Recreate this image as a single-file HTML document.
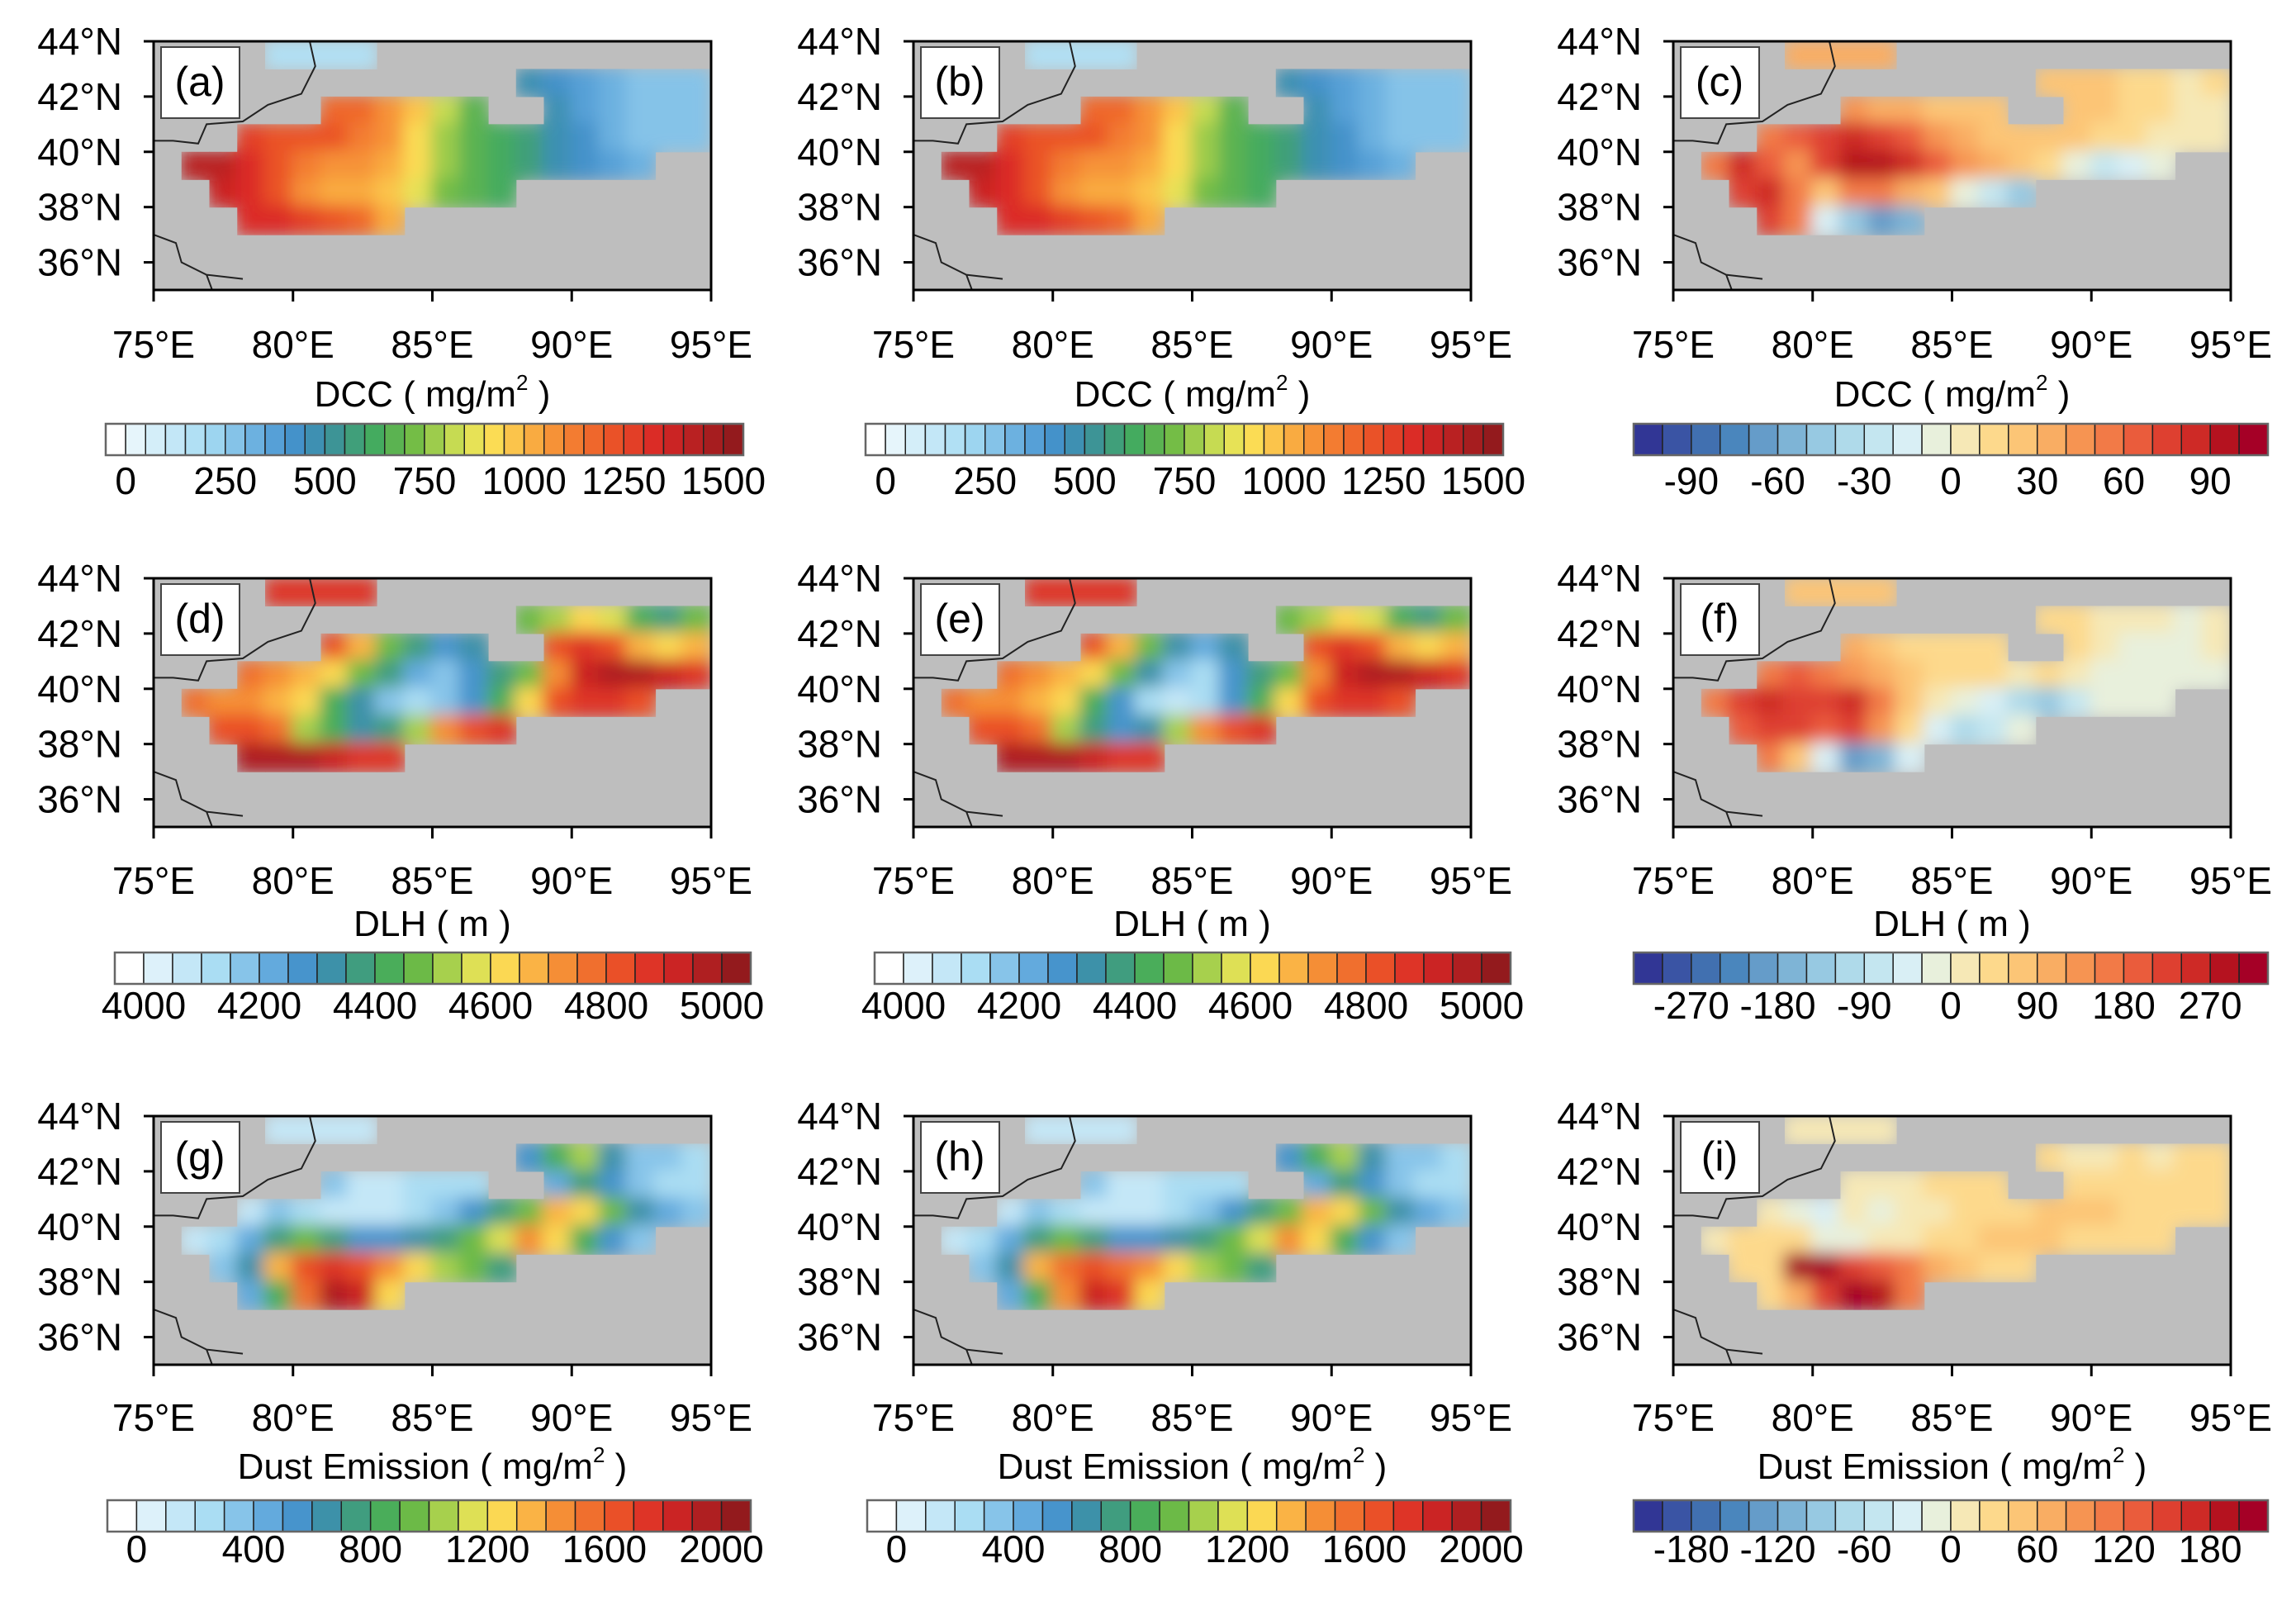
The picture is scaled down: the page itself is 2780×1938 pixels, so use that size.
<!DOCTYPE html>
<html><head><meta charset="utf-8">
<style>
html,body{margin:0;padding:0;background:#fff;}
svg{display:block;font-family:"Liberation Sans",sans-serif;}
</style></head>
<body>
<svg id="fig" width="2780" height="1938" viewBox="0 0 2780 1938" xmlns="http://www.w3.org/2000/svg">
<defs>
<filter id="soft" x="-5%" y="-5%" width="110%" height="110%"><feGaussianBlur stdDeviation="10"/></filter>
</defs>
</svg>
<script>
const _ = null;
// grid: rows lat 44->35 (1 deg), cols lon 75->94 (1 deg)
const dccA = [
[_,_,_,_,150,150,150,150,_,_,_,_,_,_,_,_,_,_,_,_],
[_,_,_,_,_,_,_,_,_,_,_,_,_,450,400,350,300,250,250,250],
[_,_,_,_,_,_,1150,1150,1050,950,800,650,_,_,450,350,300,250,250,250],
[_,_,_,1250,1200,1200,1200,1100,1050,900,750,650,600,550,450,400,300,250,250,250],
[_,1400,1400,1300,1200,1100,1050,1050,1000,900,750,650,600,550,450,400,350,300,_,_],
[_,_,1350,1300,1200,1050,1000,1000,950,850,700,650,600,_,_,_,_,_,_,_],
[_,_,_,1300,1300,1250,1200,1150,1000,_,_,_,_,_,_,_,_,_,_,_],
[_,_,_,_,_,_,_,_,_,_,_,_,_,_,_,_,_,_,_,_],
[_,_,_,_,_,_,_,_,_,_,_,_,_,_,_,_,_,_,_,_]];
const dccB = [
[_,_,_,_,150,150,150,150,_,_,_,_,_,_,_,_,_,_,_,_],
[_,_,_,_,_,_,_,_,_,_,_,_,_,450,400,350,300,250,250,250],
[_,_,_,_,_,_,1150,1150,1050,950,800,650,_,_,450,350,300,250,250,250],
[_,_,_,1250,1200,1200,1200,1100,1050,900,750,650,600,550,450,400,300,250,250,250],
[_,1400,1400,1300,1200,1100,1050,1050,1000,900,750,650,600,550,450,400,350,300,_,_],
[_,_,1350,1300,1200,1050,1000,1000,950,850,700,650,600,_,_,_,_,_,_,_],
[_,_,_,1300,1300,1250,1200,1150,1000,_,_,_,_,_,_,_,_,_,_,_],
[_,_,_,_,_,_,_,_,_,_,_,_,_,_,_,_,_,_,_,_],
[_,_,_,_,_,_,_,_,_,_,_,_,_,_,_,_,_,_,_,_]];
const dccDiff = [
[_,_,_,_,30,30,30,30,_,_,_,_,_,_,_,_,_,_,_,_],
[_,_,_,_,_,_,_,_,_,_,_,_,_,20,25,20,15,10,5,15],
[_,_,_,_,_,_,40,30,30,20,20,20,_,_,25,20,15,10,5,5],
[_,_,_,50,60,70,80,70,60,40,30,25,20,25,20,15,10,5,5,5],
[_,50,80,60,40,70,90,90,80,60,40,30,25,10,-10,-30,-20,-10,_,_],
[_,_,70,80,50,20,50,50,30,20,-10,-30,-50,_,_,_,_,_,_,_],
[_,_,_,70,50,-20,-50,-70,-60,_,_,_,_,_,_,_,_,_,_,_],
[_,_,_,_,_,_,_,_,_,_,_,_,_,_,_,_,_,_,_,_],
[_,_,_,_,_,_,_,_,_,_,_,_,_,_,_,_,_,_,_,_]];
const dlhD = [
[_,_,_,_,4850,4850,4850,4850,_,_,_,_,_,_,_,_,_,_,_,_],
[_,_,_,_,_,_,_,_,_,_,_,_,_,4450,4500,4600,4550,4400,4350,4450],
[_,_,_,_,_,_,4800,4650,4450,4350,4250,4300,_,_,4800,4850,4800,4650,4600,4650],
[_,_,_,4750,4700,4650,4600,4450,4350,4200,4150,4250,4350,4450,4700,4900,4950,4950,4900,4850],
[_,4750,4700,4700,4650,4600,4400,4300,4150,4100,4150,4250,4400,4600,4800,4850,4850,4800,_,_],
[_,_,4800,4800,4750,4500,4400,4300,4350,4500,4700,4800,4850,_,_,_,_,_,_,_],
[_,_,_,4950,4950,4950,4900,4850,4850,_,_,_,_,_,_,_,_,_,_,_],
[_,_,_,_,_,_,_,_,_,_,_,_,_,_,_,_,_,_,_,_],
[_,_,_,_,_,_,_,_,_,_,_,_,_,_,_,_,_,_,_,_]];
const dlhE = [
[_,_,_,_,4850,4850,4850,4850,_,_,_,_,_,_,_,_,_,_,_,_],
[_,_,_,_,_,_,_,_,_,_,_,_,_,4450,4500,4600,4550,4400,4350,4450],
[_,_,_,_,_,_,4800,4650,4450,4300,4200,4300,_,_,4800,4850,4800,4650,4600,4650],
[_,_,_,4750,4700,4650,4600,4450,4300,4150,4100,4250,4350,4450,4700,4900,4950,4950,4900,4850],
[_,4750,4700,4700,4650,4600,4400,4250,4100,4050,4100,4250,4400,4600,4800,4850,4850,4800,_,_],
[_,_,4800,4800,4750,4500,4350,4250,4300,4500,4700,4800,4850,_,_,_,_,_,_,_],
[_,_,_,4950,4950,4950,4900,4850,4850,_,_,_,_,_,_,_,_,_,_,_],
[_,_,_,_,_,_,_,_,_,_,_,_,_,_,_,_,_,_,_,_],
[_,_,_,_,_,_,_,_,_,_,_,_,_,_,_,_,_,_,_,_]];
const dlhDiff = [
[_,_,_,_,60,60,60,60,_,_,_,_,_,_,_,_,_,_,_,_],
[_,_,_,_,_,_,_,_,_,_,_,_,_,30,30,10,0,0,-10,0],
[_,_,_,_,_,_,90,60,30,30,30,30,_,_,30,0,-20,-20,-10,0],
[_,_,_,150,180,150,120,90,60,40,30,30,20,40,20,-20,-20,-30,-20,-20],
[_,150,210,240,230,210,240,150,60,20,-20,-60,-120,-150,-90,-30,-30,-20,_,_],
[_,_,180,210,210,200,220,120,30,-60,-120,-90,-30,_,_,_,_,_,_,_],
[_,_,_,150,60,-60,-210,-180,-60,_,_,_,_,_,_,_,_,_,_,_],
[_,_,_,_,_,_,_,_,_,_,_,_,_,_,_,_,_,_,_,_],
[_,_,_,_,_,_,_,_,_,_,_,_,_,_,_,_,_,_,_,_]];
const dustG = [
[_,_,_,_,100,100,100,100,_,_,_,_,_,_,_,_,_,_,_,_],
[_,_,_,_,_,_,_,_,_,_,_,_,_,500,800,1000,600,300,300,200],
[_,_,_,_,_,_,300,150,100,200,200,250,_,_,400,700,500,300,250,200],
[_,_,_,150,300,200,100,100,150,200,300,500,700,900,1300,1200,900,600,400,300],
[_,100,200,400,700,900,700,500,500,600,700,900,1100,1400,1200,800,500,300,_,_],
[_,_,300,600,1300,1600,1700,1600,1400,1200,1000,900,700,_,_,_,_,_,_,_],
[_,_,_,400,800,1500,1900,1800,1200,_,_,_,_,_,_,_,_,_,_,_],
[_,_,_,_,_,_,_,_,_,_,_,_,_,_,_,_,_,_,_,_],
[_,_,_,_,_,_,_,_,_,_,_,_,_,_,_,_,_,_,_,_]];
const dustH = [
[_,_,_,_,100,100,100,100,_,_,_,_,_,_,_,_,_,_,_,_],
[_,_,_,_,_,_,_,_,_,_,_,_,_,500,800,1000,600,300,300,200],
[_,_,_,_,_,_,300,150,100,200,200,250,_,_,400,700,500,300,250,200],
[_,_,_,150,300,200,100,100,150,200,300,500,700,900,1300,1200,900,600,400,300],
[_,100,200,400,700,900,700,500,500,600,700,900,1100,1400,1200,800,500,300,_,_],
[_,_,300,600,1300,1500,1600,1500,1400,1200,1000,900,700,_,_,_,_,_,_,_],
[_,_,_,400,800,1400,1800,1700,1200,_,_,_,_,_,_,_,_,_,_,_],
[_,_,_,_,_,_,_,_,_,_,_,_,_,_,_,_,_,_,_,_],
[_,_,_,_,_,_,_,_,_,_,_,_,_,_,_,_,_,_,_,_]];
const dustDiff = [
[_,_,_,_,10,10,10,10,_,_,_,_,_,_,_,_,_,_,_,_],
[_,_,_,_,_,_,_,_,_,_,_,_,_,20,10,10,20,10,20,20],
[_,_,_,_,_,_,10,10,10,20,20,20,_,_,20,30,30,20,20,20],
[_,_,_,10,-20,-40,0,-10,0,10,20,20,20,40,50,40,30,20,20,20],
[_,10,30,30,20,-10,-20,10,10,30,30,40,50,40,20,20,20,20,_,_],
[_,_,20,30,200,200,150,120,100,60,40,30,20,_,_,_,_,_,_,_],
[_,_,_,20,60,150,200,180,100,_,_,_,_,_,_,_,_,_,_,_],
[_,_,_,_,_,_,_,_,_,_,_,_,_,_,_,_,_,_,_,_],
[_,_,_,_,_,_,_,_,_,_,_,_,_,_,_,_,_,_,_,_]];

const latTicks = [36,38,40,42,44];
const lonTicks = [75,80,85,90,95];
const cbLabelsDCC = ["0","250","500","750","1000","1250","1500"];
const cbLabelsDLH = ["4000","4200","4400","4600","4800","5000"];
const cbLabelsDust = ["0","400","800","1200","1600","2000"];
const cbLabelsC = ["-90","-60","-30","0","30","60","90"];
const cbLabelsF = ["-270","-180","-90","0","90","180","270"];
const cbLabelsI = ["-180","-120","-60","0","60","120","180"];
const borderLon1 = [80.6,80.8,80.3,79.1,78.2,76.9,76.6,75.7,75.0];
const borderLat1 = [44.0,43.1,42.1,41.7,41.1,41.0,40.3,40.4,40.4];
const borderLon2 = [75.0,75.8,76.0,76.9,78.2];
const borderLat2 = [37.0,36.7,36.0,35.55,35.4];
const borderLon3 = [76.9,77.1];
const borderLat3 = [35.55,35.0];

const NS = "http://www.w3.org/2000/svg";
const svg = document.getElementById('fig');
function mk(tag, attrs, parent){const e=document.createElementNS(NS,tag);for(const k in attrs)e.setAttribute(k,attrs[k]);(parent||svg).appendChild(e);return e;}
function hex(h){return [parseInt(h.slice(1,3),16),parseInt(h.slice(3,5),16),parseInt(h.slice(5,7),16)];}
function palette(stops,n){const out=[];for(let i=0;i<n;i++){const t=i/(n-1);let j=0;while(j<stops.length-2&&t>stops[j+1][0])j++;const a=stops[j],b=stops[j+1];const f=Math.min(1,Math.max(0,(t-a[0])/(b[0]-a[0])));const ca=hex(a[1]),cb=hex(b[1]);out.push('rgb('+ca.map((v,k)=>Math.round(v+(cb[k]-v)*f)).join(',')+')');}return out;}
const seqStops=[[0,'#ffffff'],[0.035,'#e4f4fb'],[0.15,'#a6dbf3'],[0.25,'#5aa3da'],[0.3,'#3f8ec6'],[0.35,'#3c929a'],[0.42,'#44ab5e'],[0.48,'#6fbb45'],[0.55,'#c8dc52'],[0.6,'#fbe658'],[0.65,'#fbc04a'],[0.72,'#f58a34'],[0.8,'#ec5628'],[0.88,'#d92726'],[1,'#931a1d']];
const seq32 = palette(seqStops,32);
const seq22 = palette(seqStops,22);
const div22 = ['#313695','#3a54a4','#4170b0','#4a86bd','#659cc9','#7eb4d6','#97c9e2','#afdaea','#c4e6f0','#d9eff5','#e8f0dc','#f6e8b6','#fdd98c','#fcc576','#f9ad63','#f69452','#f27a47','#ea5c3c','#de4030','#ce2a26','#b5121f','#a50026'];

const colL=[186,1106,2026], rowT=[50,700,1351], W=675, H=301;
function xs(lon,c){return colL[c]+(lon-75)*W/20;}
function ys(lat,r){return rowT[r]+(44-lat)*H/9;}

const panels=[
 {id:'a',r:0,c:0,data:dccA,pal:seq32,base:0,step:50,off:1,title:'DCC',unit:true,labels:cbLabelsDCC,lb0:1,lbStep:5},
 {id:'b',r:0,c:1,data:dccB,pal:seq32,base:0,step:50,off:1,title:'DCC',unit:true,labels:cbLabelsDCC,lb0:1,lbStep:5},
 {id:'c',r:0,c:2,data:dccDiff,pal:div22,base:0,step:10,off:11,title:'DCC',unit:true,labels:cbLabelsC,lb0:2,lbStep:3},
 {id:'d',r:1,c:0,data:dlhD,pal:seq22,base:4000,step:50,off:1,title:'DLH ( m )',unit:false,labels:cbLabelsDLH,lb0:1,lbStep:4},
 {id:'e',r:1,c:1,data:dlhE,pal:seq22,base:4000,step:50,off:1,title:'DLH ( m )',unit:false,labels:cbLabelsDLH,lb0:1,lbStep:4},
 {id:'f',r:1,c:2,data:dlhDiff,pal:div22,base:0,step:30,off:11,title:'DLH ( m )',unit:false,labels:cbLabelsF,lb0:2,lbStep:3},
 {id:'g',r:2,c:0,data:dustG,pal:seq22,base:0,step:100,off:1,title:'Dust Emission',unit:true,labels:cbLabelsDust,lb0:1,lbStep:4},
 {id:'h',r:2,c:1,data:dustH,pal:seq22,base:0,step:100,off:1,title:'Dust Emission',unit:true,labels:cbLabelsDust,lb0:1,lbStep:4},
 {id:'i',r:2,c:2,data:dustDiff,pal:div22,base:0,step:20,off:11,title:'Dust Emission',unit:true,labels:cbLabelsI,lb0:2,lbStep:3}
];
const rowOff=[{xl:383,title:442,cb:463,cbl:532},{xl:382,title:433,cb:453,cbl:517},{xl:381,title:439,cb:465,cbl:524}];
const cbX=[[-58,772],[-47,770],[-56,779]];

panels.forEach(p=>{
 const g=mk('g',{});
 
 
 const x0=colL[p.c], y0=rowT[p.r];
 const clipId='clip'+p.id, maskId='mclip'+p.id;
 const cp=mk('clipPath',{id:clipId},svg.querySelector('defs'));
 mk('rect',{x:x0,y:y0,width:W,height:H},cp);
 const bg=mk('rect',{x:x0,y:y0,width:W,height:H,fill:'#bebebe'},g);
 
 
 const mcp=mk('clipPath',{id:maskId},svg.querySelector('defs'));
 const cells=mk('g',{filter:'url(#soft)'},mk('g',{'clip-path':'url(#'+maskId+')'},g));
 
 
 p.data.forEach((row,ri)=>row.forEach((v,ci)=>{
   if(v===null)return;
   const lon=75+ci, lat=44-ri;
   const cx=xs(lon,p.c), cy=ys(lat,p.r), cw=W/20, ch=H/9;
   mk('rect',{x:cx,y:cy,width:cw+0.6,height:ch+0.6},mcp);
   let k=Math.floor((v-p.base)/p.step)+p.off; k=Math.max(0,Math.min(p.pal.length-1,k));
   const cell=mk('rect',{x:cx-2,y:cy-2,width:cw+4,height:ch+4,fill:p.pal[k]},cells);
   
   
 }));
 const bl=mk('g',{'clip-path':'url(#'+clipId+')',fill:'none',stroke:'#222',"stroke-width":2},g);
 
 
 [[borderLon1,borderLat1],[borderLon2,borderLat2],[borderLon3,borderLat3]].forEach(([lo,la])=>{
   mk('polyline',{points:lo.map((v,i)=>xs(v,p.c)+','+ys(la[i],p.r)).join(' ')},bl);
 });
 const fr=mk('rect',{x:x0,y:y0,width:W,height:H,fill:'none',stroke:'#000','stroke-width':3},g);
 
 
 const lb=mk('rect',{x:x0+9,y:y0+7,width:95,height:86,fill:'#fff',stroke:'#444','stroke-width':2},g);
 
 
 const lt=mk('text',{x:x0+56,y:y0+66,'font-size':50,'text-anchor':'middle'},g);
 lt.textContent='('+p.id+')';
 
 
 latTicks.forEach(t=>{
   const y=ys(t,p.r);
   mk('line',{x1:x0-12,x2:x0,y1:y,y2:y,stroke:'#000','stroke-width':3},g);
   const tx=mk('text',{x:x0-38,y:y+16,'font-size':46,'text-anchor':'end'},g);
   tx.textContent=t+'°N';
   
   
 });
 const ro=rowOff[p.r];
 lonTicks.forEach(t=>{
   const x=xs(t,p.c);
   mk('line',{x1:x,x2:x,y1:y0+H,y2:y0+H+14,stroke:'#000','stroke-width':3},g);
   const tx=mk('text',{x:x,y:y0+ro.xl,'font-size':46,'text-anchor':'middle'},g);
   tx.textContent=t+'°E';
   
   
 });
 const tt=mk('text',{x:x0+W/2,y:y0+ro.title,'font-size':44,'text-anchor':'middle'},g);
 
 
 if(p.unit){
   tt.appendChild(document.createTextNode(p.title+' ( mg/m'));
   const s=mk('tspan',{'font-size':26,dy:-20},tt); s.textContent='2';
   const s2=mk('tspan',{dy:20},tt); s2.textContent=' )';
 } else tt.textContent=p.title;
 const cbg=mk('g',{},g);
 
 
 const off=p.c===2?[-48,768]:cbX[p.r];
 const cx0=x0+off[0], cw=off[1], n=p.pal.length, bw=cw/n, cy=y0+ro.cb;
 p.pal.forEach((col,i)=>{
   const r=mk('rect',{x:cx0+i*bw,y:cy,width:bw,height:38,fill:col,stroke:'#222','stroke-width':1.5},cbg);
   
   
 });
 mk('rect',{x:cx0,y:cy,width:cw,height:38,fill:'none',stroke:'#666','stroke-width':2.5},cbg);
 p.labels.forEach((l,i)=>{
   const bx=cx0+(p.lb0+i*p.lbStep)*bw;
   const t=mk('text',{x:bx,y:y0+ro.cbl+16,'font-size':46,'text-anchor':'middle'},cbg);
   t.textContent=l;
   
   
 });
});
</script>
</body></html>
